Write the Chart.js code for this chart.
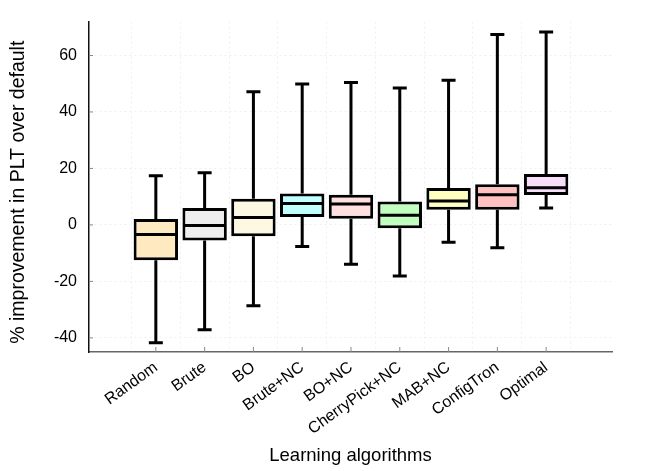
<!DOCTYPE html>
<html>
<head>
<meta charset="UTF-8">
<title>Learning algorithms box plot</title>
<script src="https://cdn.jsdelivr.net/npm/chart.js@4.4.1/dist/chart.umd.min.js"></script>
<style>
  html, body { margin: 0; padding: 0; background: #fff; }
  #wrap { width: 648px; height: 471px; }
</style>
</head>
<body>
<div id="wrap"><canvas id="canvas"></canvas></div>
<script>
// categories
const algos = ["Random", "Brute", "BO", "Brute+NC", "BO+NC", "CherryPick+NC", "MAB+NC", "ConfigTron", "Optimal"];
// five number summary per algorithm
const whiskerLow  = [-41.7, -37.1, -28.6, -7.6, -13.9, -18.1, -6.1, -8.1,  6.0];
const quart1      = [-12.5,  -5.5,  -4.0,  2.8,   2.2,  -1.2,  5.4,  5.4, 10.6];
const medians     = [ -3.4,  -0.2,   2.6,  7.6,   7.4,   3.4,  8.5, 10.7, 13.2];
const quart3      = [  2.1,   6.0,   9.3, 11.1,  10.7,   8.3, 13.1, 14.4, 18.0];
const whiskerHigh = [ 17.4,  18.5,  47.2, 49.9,  50.4,  48.5, 51.2, 67.4, 68.3];
const yTicks = [-40, -20, 0, 20, 40, 60];
const boxColors = ["#ffe9c0", "#eeeeee", "#fcf8e2", "#c0ffff", "#ffe0e0", "#c0ffc0", "#ffffc0", "#ffc0c0", "#f8ddf8"];

const FONT = "'Liberation Sans', Arial, Helvetica, sans-serif";

// whiskers, caps, medians and small inside ticks
const boxPlugin = {
  id: "boxWhiskers",
  afterDatasetsDraw(chart) {
    const ctx = chart.ctx;
    const xs = chart.scales.x, ys = chart.scales.y;
    const meta = chart.getDatasetMeta(0);
    const area = chart.chartArea;
    ctx.save();
    // tick marks pointing in
    ctx.strokeStyle = "#888";
    ctx.lineWidth = 1;
    ctx.beginPath();
    ys.ticks.forEach(t => {
      const py = ys.getPixelForValue(t.value);
      ctx.moveTo(area.left, py); ctx.lineTo(area.left + 4, py);
    });
    xs.ticks.forEach(t => {
      const px = xs.getPixelForValue(t.value);
      ctx.moveTo(px, area.bottom); ctx.lineTo(px, area.bottom - 5);
    });
    ctx.stroke();

    ctx.strokeStyle = "#000";
    ctx.lineWidth = 3;
    ctx.lineCap = "butt";
    algos.forEach((a, i) => {
      const px = xs.getPixelForValue(i);
      const lo = ys.getPixelForValue(whiskerLow[i]);
      const hi = ys.getPixelForValue(whiskerHigh[i]);
      const q1 = ys.getPixelForValue(quart1[i]);
      const q3 = ys.getPixelForValue(quart3[i]);
      const md = ys.getPixelForValue(medians[i]);
      const half = meta.data[i].width / 2;
      const cap = 7;
      ctx.beginPath();
      ctx.moveTo(px, q3); ctx.lineTo(px, hi);
      ctx.moveTo(px - cap, hi); ctx.lineTo(px + cap, hi);
      ctx.moveTo(px, q1); ctx.lineTo(px, lo);
      ctx.moveTo(px - cap, lo); ctx.lineTo(px + cap, lo);
      ctx.moveTo(px - half + 1.5, md); ctx.lineTo(px + half - 1.5, md);
      ctx.stroke();
    });
    ctx.restore();
  }
};

const ctx = document.getElementById("canvas").getContext("2d");
new Chart(ctx, {
  type: "bar",
  data: {
    datasets: [{
      data: algos.map((a, i) => ({ x: i, y: [quart1[i], quart3[i]] })),
      backgroundColor: boxColors,
      borderColor: "#000",
      borderWidth: 3,
      borderSkipped: false,
      barPercentage: 0.91,
      categoryPercentage: 1
    }]
  },
  options: {
    responsive: true,
    maintainAspectRatio: false,
    animation: false,
    layout: { padding: { left: 4, top: 18, right: 36, bottom: 0 } },
    plugins: { legend: { display: false }, tooltip: { enabled: false } },
    scales: {
      x: {
        type: "linear",
        offset: false,
        min: -1.37,
        max: 9.35,
        afterBuildTicks: s => { s.ticks = algos.map((a, i) => ({ value: i })); },
        afterFit: s => { s.height = 119; },
        grid: { color: "#efefef", drawTicks: false },
        border: { color: "#666", width: 1.5, dash: [2, 3] },
        ticks: {
          autoSkip: false,
          minRotation: 36,
          maxRotation: 36,
          padding: 6,
          color: "#000",
          font: { family: FONT, size: 16 },
          callback: v => algos[v] !== undefined ? algos[v] : ""
        },
        title: {
          display: true,
          text: "Learning algorithms",
          color: "#000",
          font: { family: FONT, size: 18.5 },
          padding: { top: 0, bottom: 4 }
        }
      },
      y: {
        min: -45,
        max: 72,
        afterBuildTicks: s => { s.ticks = yTicks.map(v => ({ value: v })); },
        afterFit: s => { s.width = 85; },
        grid: { color: "#efefef", drawTicks: false },
        border: { color: "#111", width: 1.5, dash: [2, 3] },
        ticks: {
          padding: 12,
          color: "#000",
          font: { family: FONT, size: 16 }
        },
        title: {
          display: true,
          // trailing spaces nudge the label down a little, like the original
          text: "% improvement in PLT over default  ",
          color: "#000",
          font: { family: FONT, size: 19.5 },
          padding: { top: 3, bottom: 0 }
        }
      }
    }
  },
  plugins: [boxPlugin]
});
</script>
</body>
</html>
